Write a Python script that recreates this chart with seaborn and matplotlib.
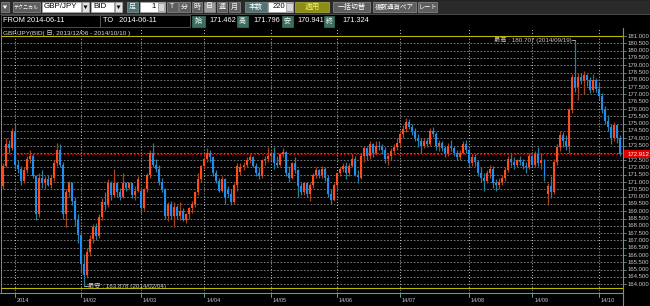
import numpy as np
import pandas as pd
import matplotlib
matplotlib.use("Agg")
import matplotlib.pyplot as plt
import seaborn as sns
from matplotlib.patches import Rectangle, Polygon
from matplotlib.transforms import blended_transform_factory

sns.set_theme(style="dark", rc={"axes.facecolor": "black", "figure.facecolor": "black"})
plt.rcParams["font.family"] = ["Liberation Sans", "Noto Sans CJK JP"]

# ---------------- data ----------------
holidays = ["2014-01-01"]
dates = pd.bdate_range("2013-12-26", "2014-10-10")
dates = dates[~dates.isin(pd.to_datetime(holidays))]

opens = [
    170.7, 172.1, 173.6, 173.3,
    174.5, 172.2, 171.9, 171.1, 171.8, 172.6, 172.8, 171.4, 168.8, 171.3, 170.9, 171.2, 170.8, 171.3, 172.3, 173.2, 172.2, 168.8, 170.3, 170.9, 169.7, 168.4,
    167.4, 165.4, 164.6, 166.2, 167.1, 167.9, 167.3, 168.6, 169.6, 169.4, 170.95, 170.1, 170.9, 170.3, 170.0, 170.9, 170.6, 170.9, 170.1, 170.4,
    170.4, 169.2, 170.5, 171.5, 173.0, 172.2, 171.9, 171.0, 170.5, 168.7, 169.5, 168.7, 169.3, 168.7, 169.0, 168.4, 168.8, 169.2, 169.5, 170.3, 171.2,
    172.1, 172.6, 173.0, 172.7, 171.6, 171.1, 170.4, 171.2, 170.5, 170.2, 169.6, 170.8, 171.7, 172.0, 172.2, 172.5, 172.7, 172.1, 171.6, 171.4, 172.5, 172.6,
    172.8, 173.0, 172.3, 172.2, 172.9, 173.05, 171.6, 171.3, 172.3, 171.8, 170.7, 170.3, 170.9, 170.2, 170.8, 171.5, 171.8, 171.5, 171.9, 171.3, 170.2, 169.8,
    170.8, 171.6, 171.9, 172.1, 171.6, 172.1, 172.6, 171.462, 171.3, 172.8, 173.3, 172.8, 173.6, 173.0, 173.5, 173.4, 173.2, 172.6, 172.8, 173.1, 173.4,
    173.7, 174.3, 174.6, 175.1, 174.8, 174.5, 174.0, 173.8, 173.5, 173.8, 173.6, 174.5, 174.3, 173.5, 173.7, 173.3, 172.9, 173.5, 173.3, 173.0, 172.7, 173.0, 173.6,
    173.2, 172.3, 172.7, 172.4, 171.6, 171.3, 171.1, 171.6, 171.9, 170.9, 170.8, 171.0, 171.3, 171.8, 172.6, 172.4, 172.2, 172.5, 172.4, 172.1, 172.0,
    172.8, 172.2, 172.9, 172.3, 172.5, 170.2, 170.7, 170.3, 172.4, 173.4, 174.2, 173.8, 173.5, 175.9, 178.2, 177.5, 178.2, 177.9, 178.3, 178.0, 177.3, 178.0,
    177.4, 176.9, 175.9, 175.2, 174.8, 174.0, 174.9, 174.0,
]
highs = [
    172.3, 174.0, 173.9, 174.7,
    175.05, 172.5, 172.1, 172.0, 172.8, 173.2, 172.9, 171.5, 171.6, 171.8, 171.4, 171.5, 171.5, 172.5, 173.7, 173.6, 172.4, 170.5, 171.1, 171.0, 170.0, 168.8,
    167.6, 166.1, 166.5, 167.4, 168.1, 168.2, 168.8, 169.9, 170.3, 171.2, 171.1, 171.9, 171.0, 170.6, 171.6, 171.0, 171.0, 170.9, 170.7, 171.4,
    170.6, 170.6, 171.6, 173.2, 173.65, 172.6, 172.2, 171.3, 170.6, 169.6, 169.7, 169.6, 169.4, 169.6, 169.2, 168.9, 169.3, 169.7, 170.4, 171.6, 172.2,
    172.7, 173.3, 173.2, 172.8, 171.8, 171.3, 171.4, 171.3, 170.7, 170.5, 170.9, 172.3, 172.3, 172.4, 172.7, 172.9, 172.8, 172.3, 172.0, 172.6, 172.8, 173.4,
    173.1, 173.4, 172.8, 173.0, 173.3, 173.1, 172.1, 172.4, 172.7, 171.9, 170.9, 171.0, 171.0, 170.9, 171.6, 172.0, 171.9, 172.1, 172.0, 171.5, 170.5, 170.9,
    171.7, 172.0, 172.3, 172.4, 172.3, 172.9, 172.8, 171.796, 173.0, 173.5, 173.4, 173.8, 173.7, 173.8, 173.8, 173.6, 173.4, 173.0, 173.3, 173.6, 174.0,
    174.5, 174.9, 175.4, 175.3, 175.0, 174.7, 174.3, 174.0, 174.0, 174.0, 174.7, 174.8, 174.4, 173.9, 173.8, 173.5, 173.7, 173.9, 173.5, 173.2, 173.2, 173.8, 173.9,
    173.3, 172.9, 172.9, 172.5, 172.0, 171.6, 171.8, 172.2, 172.1, 171.2, 171.3, 171.5, 172.0, 172.8, 172.9, 172.7, 172.6, 172.8, 172.6, 172.4, 173.0,
    172.9, 173.1, 173.4, 173.0, 172.6, 170.9, 171.4, 172.6, 173.6, 174.5, 174.4, 174.2, 176.1, 178.4, 180.707, 178.5, 178.5, 178.6, 178.4, 178.2, 178.4, 178.1,
    177.8, 177.1, 176.2, 175.6, 175.0, 175.1, 175.0, 174.2,
]
lows = [
    170.5, 172.0, 173.0, 173.2,
    171.9, 171.6, 170.8, 170.9, 171.6, 172.3, 171.3, 168.4, 168.6, 170.6, 170.5, 170.7, 170.6, 171.1, 172.1, 172.0, 168.5, 167.9, 170.0, 169.4, 168.0, 166.8,
    164.8, 163.878, 164.4, 165.9, 166.8, 167.0, 167.2, 168.4, 169.1, 169.3, 169.8, 170.0, 170.0, 169.8, 169.9, 170.4, 170.5, 169.9, 169.8, 170.3,
    168.9, 169.1, 170.3, 171.3, 172.0, 171.7, 170.8, 170.3, 168.5, 168.3, 168.5, 167.9, 168.5, 168.4, 168.3, 168.2, 168.5, 168.9, 169.3, 170.1, 171.0,
    171.9, 172.4, 172.4, 171.4, 170.9, 170.3, 170.3, 169.5, 170.0, 169.4, 169.5, 170.4, 171.5, 171.8, 172.0, 172.3, 172.0, 171.4, 171.2, 171.3, 172.2, 172.4,
    172.5, 171.9, 172.0, 172.1, 172.7, 171.4, 171.0, 171.2, 171.6, 170.0, 170.1, 170.1, 170.0, 169.7, 170.6, 171.3, 171.3, 171.3, 171.1, 170.0, 169.5, 169.7,
    170.6, 171.4, 171.7, 171.2, 171.4, 172.0, 171.4, 170.941, 171.2, 172.4, 172.5, 172.6, 172.7, 172.9, 173.2, 172.9, 172.3, 172.2, 172.5, 172.9, 173.2,
    173.5, 174.0, 174.4, 174.6, 174.2, 173.8, 173.4, 173.0, 173.3, 173.4, 173.5, 174.1, 173.2, 173.1, 173.1, 172.7, 172.8, 173.1, 172.8, 172.5, 172.5, 172.9, 173.0,
    172.0, 172.1, 172.1, 171.4, 171.0, 170.4, 170.9, 171.3, 170.6, 170.4, 170.5, 170.8, 171.1, 171.7, 172.1, 171.9, 172.0, 172.2, 171.9, 171.6, 171.9,
    172.0, 172.0, 172.1, 171.9, 171.1, 169.4, 169.9, 170.2, 172.2, 173.1, 173.4, 173.2, 173.0, 175.7, 177.2, 176.6, 177.7, 177.0, 177.6, 177.1, 177.2, 177.2,
    176.6, 175.7, 175.0, 174.5, 173.6, 173.8, 173.7, 172.8,
]
closes = [
    172.1, 173.6, 173.3, 174.5,
    172.2, 171.9, 171.1, 171.8, 172.6, 172.8, 171.4, 168.8, 171.3, 170.9, 171.2, 170.8, 171.3, 172.3, 173.2, 172.2, 168.8, 170.3, 170.9, 169.7, 168.4, 167.4,
    165.4, 164.6, 166.2, 167.1, 167.9, 167.3, 168.6, 169.6, 169.4, 170.95, 170.1, 170.9, 170.3, 170.0, 170.9, 170.6, 170.9, 170.1, 170.4, 171.2,
    169.2, 170.5, 171.5, 173.0, 172.2, 171.9, 171.0, 170.5, 168.7, 169.5, 168.7, 169.3, 168.7, 169.0, 168.4, 168.8, 169.2, 169.5, 170.3, 171.2, 172.1,
    172.6, 173.0, 172.7, 171.6, 171.1, 170.4, 171.2, 170.0, 170.2, 169.6, 170.8, 172.1, 172.05, 172.2, 172.5, 172.7, 172.1, 171.6, 171.4, 172.5, 172.6, 172.8,
    173.0, 172.3, 172.2, 172.9, 173.05, 171.6, 171.3, 172.3, 171.8, 170.7, 170.3, 170.9, 170.2, 170.8, 171.5, 171.8, 171.5, 171.9, 171.3, 170.2, 169.8, 170.8,
    171.6, 171.9, 172.1, 171.6, 172.1, 172.6, 171.5, 171.324, 172.8, 173.3, 172.8, 173.6, 173.0, 173.5, 173.4, 173.2, 172.6, 172.8, 173.1, 173.4, 173.7,
    174.3, 174.6, 175.1, 174.8, 174.5, 174.0, 173.8, 173.5, 173.8, 173.6, 174.5, 174.3, 173.5, 173.7, 173.3, 172.9, 173.5, 173.3, 173.0, 172.7, 173.0, 173.6, 173.2,
    172.3, 172.7, 172.4, 171.6, 171.3, 171.1, 171.6, 171.9, 170.9, 170.8, 171.0, 171.3, 171.8, 172.6, 172.4, 172.2, 172.5, 172.4, 172.1, 172.0, 172.8,
    172.2, 172.9, 172.3, 172.5, 171.4, 170.7, 170.3, 172.4, 173.4, 174.2, 173.8, 173.5, 175.9, 178.2, 177.5, 178.2, 177.9, 178.3, 178.0, 177.3, 178.0, 177.4,
    176.9, 175.9, 175.2, 174.8, 174.0, 174.9, 174.0, 172.912,
]
month_labels = ["2014", "14/02", "14/03", "14/04", "14/05", "14/06", "14/07", "14/08", "14/09", "14/10"]
current_price = 172.912
high_value, high_text = 180.707, "最高 : 180.707 (2014/09/19)"
low_value, low_text = 163.878, "最安 : 163.878 (2014/02/04)"
title_text = "GBP/JPY(BID( 日, 2013/12/06 - 2014/10/10 )"
price_ticks = np.arange(164.0, 181.01, 0.5)

df = pd.DataFrame({"date": dates, "open": opens, "high": highs, "low": lows, "close": closes})
df["pos"] = np.arange(len(df))
df["up"] = df["close"] >= df["open"]

# ---------------- figure ----------------
W, H = 650, 306
fig = plt.figure(figsize=(6.5, 3.06), dpi=100, facecolor="black")
ax = fig.add_axes([1 / W, 13 / H, 622 / W, 265 / H], zorder=1)
ax.set_facecolor("black")
ax.set_xlim(-0.565, 206.08)
ax.set_ylim(163.40, 181.55)
ax.set_xticks([]); ax.set_yticks([])
for s in ax.spines.values():
    s.set_visible(False)
ax.grid(False)

# grid
ax.hlines(price_ticks, -1, 207, colors="#8e8e8e", linewidth=0.6, linestyles=(0, (2, 2)), zorder=1)
month_pos = [int(np.argmax((df["date"].dt.year == 2014) & (df["date"].dt.month == m))) for m in range(1, 11)]
for p in month_pos:
    ax.axvline(p, color="#c0c0c0", linewidth=0.7, linestyle=(0, (1, 2)), zorder=1)
ax.axhline(181.0, color="#b8b800", linewidth=0.8, zorder=2)
ax.axhline(163.74, color="#b8b800", linewidth=0.8, zorder=2)
ax.axhline(current_price, color="#d00000", linewidth=0.7, linestyle=(0, (2, 2)), zorder=2)

# candles
up_body, up_wick = "#ff4a1c", "#a8441e"
dn_body, dn_wick = "#1e8cf0", "#2b7f98"
wick_cols = np.where(df["up"], up_wick, dn_wick)
body_cols = np.where(df["up"], up_body, dn_body)
lo = np.minimum(df["low"], np.minimum(df["open"], df["close"]))
hi = np.maximum(df["high"], np.maximum(df["open"], df["close"]))
ax.vlines(df["pos"], lo, hi, colors=wick_cols, linewidth=0.9, zorder=3)
bottoms = np.minimum(df["open"], df["close"])
heights = np.maximum(np.abs(df["close"] - df["open"]), 0.05)
ax.bar(df["pos"], heights, bottom=bottoms, width=0.66, color=body_cols, linewidth=0, zorder=4)

# annotations
ihi = int(df["high"].idxmax()); ilo = int(df["low"].idxmin())
ax.plot([ihi - 1.0, ihi], [high_value, high_value], color="#c8c8c8", lw=0.6, zorder=5)
ax.text(ihi - 1.1, high_value, high_text, ha="right", va="center", fontsize=4.5, color="#c8c8c8", zorder=6)
ax.plot([ilo, ilo + 1.2], [low_value, low_value], color="#c8c8c8", lw=0.6, zorder=5)
ax.text(ilo + 1.3, low_value, low_text, ha="left", va="center", fontsize=4.5, color="#c8c8c8", zorder=6)

# ---------------- UI overlay ----------------
ui = fig.add_axes([0, 0, 1, 1], zorder=5)
ui.patch.set_alpha(0)
ui.set_xlim(0, W); ui.set_ylim(H, 0); ui.set_axis_off()

def box(x0, y0, x1, y1, fc, ec=None, lw=0.5):
    ui.add_patch(Rectangle((x0, y0), x1 - x0, y1 - y0, facecolor=fc, edgecolor=ec if ec else fc, linewidth=lw))

def txt(x, y, s, size, color="white", ha="left", **kw):
    ui.text(x, y, s, fontsize=size, color=color, ha=ha, va="center", **kw)

# header background
box(0, 0, W, 14, "#2a2a2a", "#2a2a2a")
box(0, 14, W, 28, "#000000", "#000000")
ui.plot([0, W], [14, 14], color="#555555", lw=0.6)

btn_fc, btn_ec = "#5e5e5e", "#8e8e8e"
# row 1
box(1, 2, 9, 12, btn_fc, btn_ec)
ui.add_patch(Polygon([[2.8, 5.5], [7.2, 5.5], [5, 9]], closed=True, facecolor="white", edgecolor="none"))
box(13, 2, 40, 12, btn_fc, btn_ec); txt(26.5, 7, "テクニカル", 3.6, ha="center")
box(42, 2, 81, 12, "white", "#aaaaaa"); txt(44, 7, "GBP/JPY", 5.8, color="black")
box(82, 2, 89, 12, "#e0e0e0", "#aaaaaa")
ui.add_patch(Polygon([[83.5, 5.5], [87.5, 5.5], [85.5, 9]], closed=True, facecolor="black", edgecolor="none"))
box(91, 2, 114, 12, "white", "#aaaaaa"); txt(93, 7, "BID", 5.8, color="black")
box(115, 2, 122, 12, "#e0e0e0", "#aaaaaa")
ui.add_patch(Polygon([[116.5, 5.5], [120.5, 5.5], [118.5, 9]], closed=True, facecolor="black", edgecolor="none"))
box(127, 2, 138, 12, "#557272", "#7a9a9a"); txt(132.5, 7, "足", 5, ha="center")
box(140, 2, 165, 12, "white", "#aaaaaa"); txt(156, 7, "1", 5.5, color="black", ha="right")
box(157.5, 3, 164, 11, "#d8d8d8", "#888888")
for i, lab in enumerate(["T", "分", "時", "日", "週", "月"]):
    x0 = 167 + i * 12.4
    fc = "#9a9a9a" if lab == "日" else btn_fc
    box(x0, 2, x0 + 10.5, 12, fc, btn_ec); txt(x0 + 5.25, 7, lab, 5, ha="center")
box(245, 2, 267, 12, "#557272", "#7a9a9a"); txt(256, 7, "本数", 5, ha="center")
box(268, 2, 293, 12, "white", "#aaaaaa"); txt(285, 7, "220", 5.5, color="black", ha="right")
box(286, 3, 292.5, 11, "#d8d8d8", "#888888")
box(295, 2, 329, 12, "#8c8c18", "#b0b040"); txt(312, 7, "適用", 5.5, color="#f4f460", ha="center")
box(333, 2, 370, 12, btn_fc, btn_ec); txt(351.5, 7, "一括切替", 5, ha="center")
box(373, 2, 416, 12, btn_fc, btn_ec); txt(394.5, 7, "複数通貨ペア", 4.7, ha="center")
box(418, 2, 437, 12, btn_fc, btn_ec); txt(427.5, 7, "レート", 4.5, ha="center")

# row 2
box(1, 15, 100, 27, "#000000", "#6a6a6a"); txt(3, 21, "FROM 2014-06-11", 5.3)
box(100, 15, 190, 27, "#000000", "#6a6a6a"); txt(103, 21, "TO   2014-06-11", 5.3)
for lab, x0, x1, val, vx in [("始", 192, 205, "171.462", 236), ("高", 237, 248, "171.796", 280),
                             ("安", 282, 293, "170.941", 324), ("終", 324, 334, "171.324", 369)]:
    box(x0, 15.5, x1, 26.5, "#3c6e62", "#3c6e62"); txt((x0 + x1) / 2, 21, lab, 5, ha="center")
    txt(vx, 21, val, 5.3, ha="right")

# chart title
txt(3, 33, title_text, 4.6, color="#d8d8d8")

# frame lines
ui.plot([1.2, 1.2], [28, 293], color="#9a9a9a", lw=0.6)
ui.plot([0, 623], [293, 293], color="#5f9a9a", lw=0.8)
ui.plot([623, 623], [28, H], color="#5f9a9a", lw=0.8)

# right price labels (y from chart scale)
tr_y = blended_transform_factory(ui.transData, ax.transData)
for p in price_ticks:
    ui.plot([623, 626], [p, p], color="#8aa8a8", lw=0.5, transform=tr_y)
    ui.text(627.5, p, f"{p:.3f}", fontsize=4.3, color="#c8c8c8", ha="left", va="center", transform=tr_y)
ui.add_patch(Rectangle((623.5, current_price - 0.27), 26.5, 0.54, facecolor="#e00000", edgecolor="none",
                       transform=tr_y, zorder=6))
ui.text(627.5, current_price, f"{current_price:.3f}", fontsize=4.3, color="white", ha="left", va="center",
        transform=tr_y, zorder=7)

# bottom month labels (x from chart scale)
tr_x = blended_transform_factory(ax.transData, ui.transData)
for p, lab in zip(month_pos, month_labels):
    ui.plot([p, p], [293, 297], color="#5f9a9a", lw=0.7, transform=tr_x)
    ui.text(p + 0.6, 300.5, lab, fontsize=4.0, color="#c8c8c8", ha="left", va="center", transform=tr_x)

fig.savefig("out.png", dpi=100, facecolor="black")
